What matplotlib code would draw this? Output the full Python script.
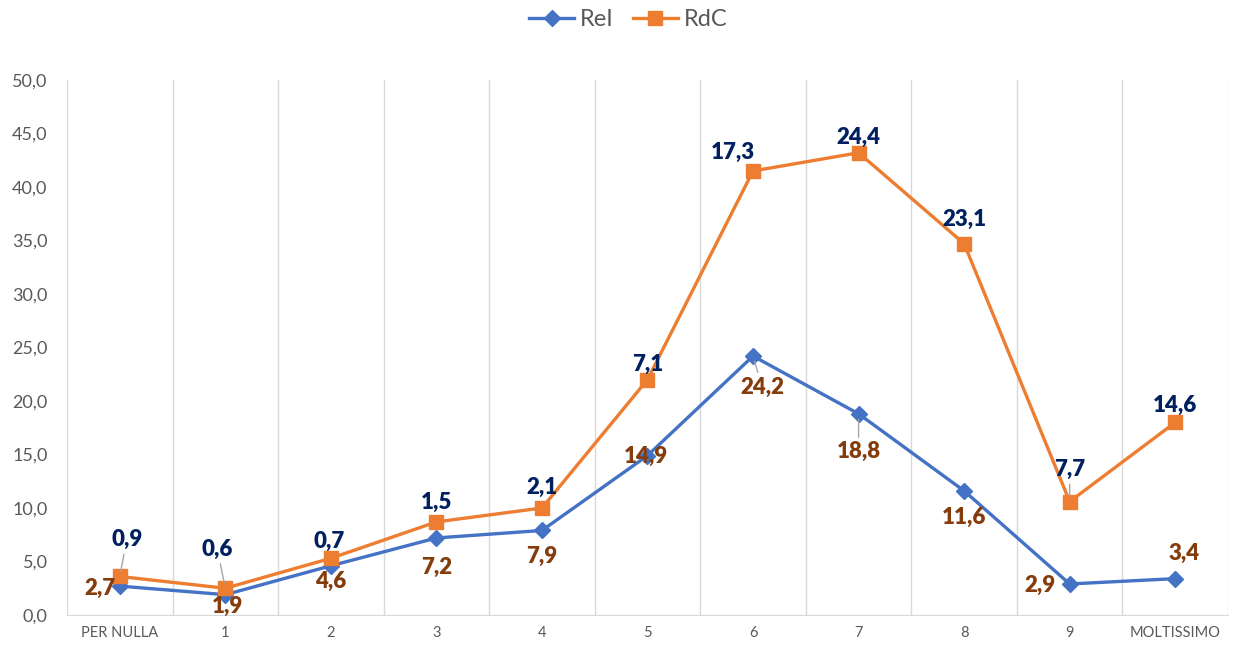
import numpy as np
import matplotlib
matplotlib.use("Agg")
import matplotlib.pyplot as plt
from matplotlib.lines import Line2D

plt.rcParams['font.family'] = ['Lato', 'DejaVu Sans']

# Data
categories = ["PER NULLA", "1", "2", "3", "4", "5", "6", "7", "8", "9", "MOLTISSIMO"]
rel = [2.7, 1.9, 4.6, 7.2, 7.9, 14.9, 24.2, 18.8, 11.6, 2.9, 3.4]
rdc = [0.9, 0.6, 0.7, 1.5, 2.1, 7.1, 17.3, 24.4, 23.1, 7.7, 14.6]

# label offsets in pixels (dx, dy, dy positive = down) and whether a leader line is drawn
rel_off = [(-20, 2), (2, 12), (0, 16), (0, 29), (0, 26), (-2, 1),
           (9, 31), (0, 38), (0, 27), (-30, 1), (9, -25)]
rel_lead = [False, False, False, False, False, False, True, True, False, False, False]
rdc_off = [(7, -37), (-8, -39), (-2, -17), (0, -20), (0, -21), (0, -15),
           (-20, -19), (0, -15), (0, -24), (0, -32), (0, -17)]
rdc_lead = [True, True, False, False, False, False, False, False, False, True, False]

BLUE = "#4472C4"
ORANGE = "#ED7D31"
NAVY = "#002060"
BROWN = "#843C0C"
GRID = "#D9D9D9"
TXT = "#595959"

x = np.arange(len(categories))
rel = np.array(rel)
stack = rel + np.array(rdc)

fig = plt.figure(figsize=(12.37, 6.47), dpi=100)
ax = fig.add_axes([67/1237, 1 - 615/647, (1228-67)/1237, (615-80)/647])

ax.plot(x, rel, color=BLUE, lw=2.4, marker="D", ms=8, zorder=3, label="ReI")
ax.plot(x, stack, color=ORANGE, lw=2.4, marker="s", ms=10, zorder=3, label="RdC")

def fmt(v):
    return f"{v:.1f}".replace(".", ",")

def labels(yv, vals, offs, leads, color):
    for xi, yi, v, (dx, dy), ld in zip(x, yv, vals, offs, leads):
        ap = None
        if ld:
            ap = dict(arrowstyle="-", color="#A6A6A6", lw=1, shrinkA=1, shrinkB=4)
        ax.annotate(fmt(v), (xi, yi), xytext=(dx, -dy), textcoords="offset pixels",
                    ha="center", va="center", fontsize=16, fontweight=800,
                    color=color, arrowprops=ap, zorder=4)

labels(rel, rel, rel_off, rel_lead, BROWN)
labels(stack, rdc, rdc_off, rdc_lead, NAVY)

ax.set_xlim(-0.5, len(categories) - 0.5)
ax.set_ylim(0, 50)
ax.set_yticks(np.arange(0, 50.1, 5))
ax.set_yticklabels([fmt(v) for v in np.arange(0, 50.1, 5)], fontsize=13, color=TXT)
ax.set_xticks(x)
ax.set_xticklabels(categories, fontsize=10.5, color=TXT)
ax.tick_params(length=0, pad=8)
ax.tick_params(axis="y", pad=14)
for b in np.arange(-0.5, len(categories), 1):
    ax.axvline(b, color=GRID, lw=1, zorder=1)
for s in ["top", "right", "left"]:
    ax.spines[s].set_visible(False)
ax.spines["bottom"].set_color(GRID)

handles = [Line2D([], [], color=BLUE, lw=2.4, marker="D", ms=8),
           Line2D([], [], color=ORANGE, lw=2.4, marker="s", ms=10)]
leg = fig.legend(handles, ["ReI", "RdC"], loc="center", bbox_to_anchor=(0.508, 1 - 20/647),
                 ncol=2, frameon=False, fontsize=17, handlelength=1.9, columnspacing=0.8,
                 handletextpad=0.25)
for t in leg.get_texts():
    t.set_color(TXT)

fig.savefig("out.png", dpi=100)
